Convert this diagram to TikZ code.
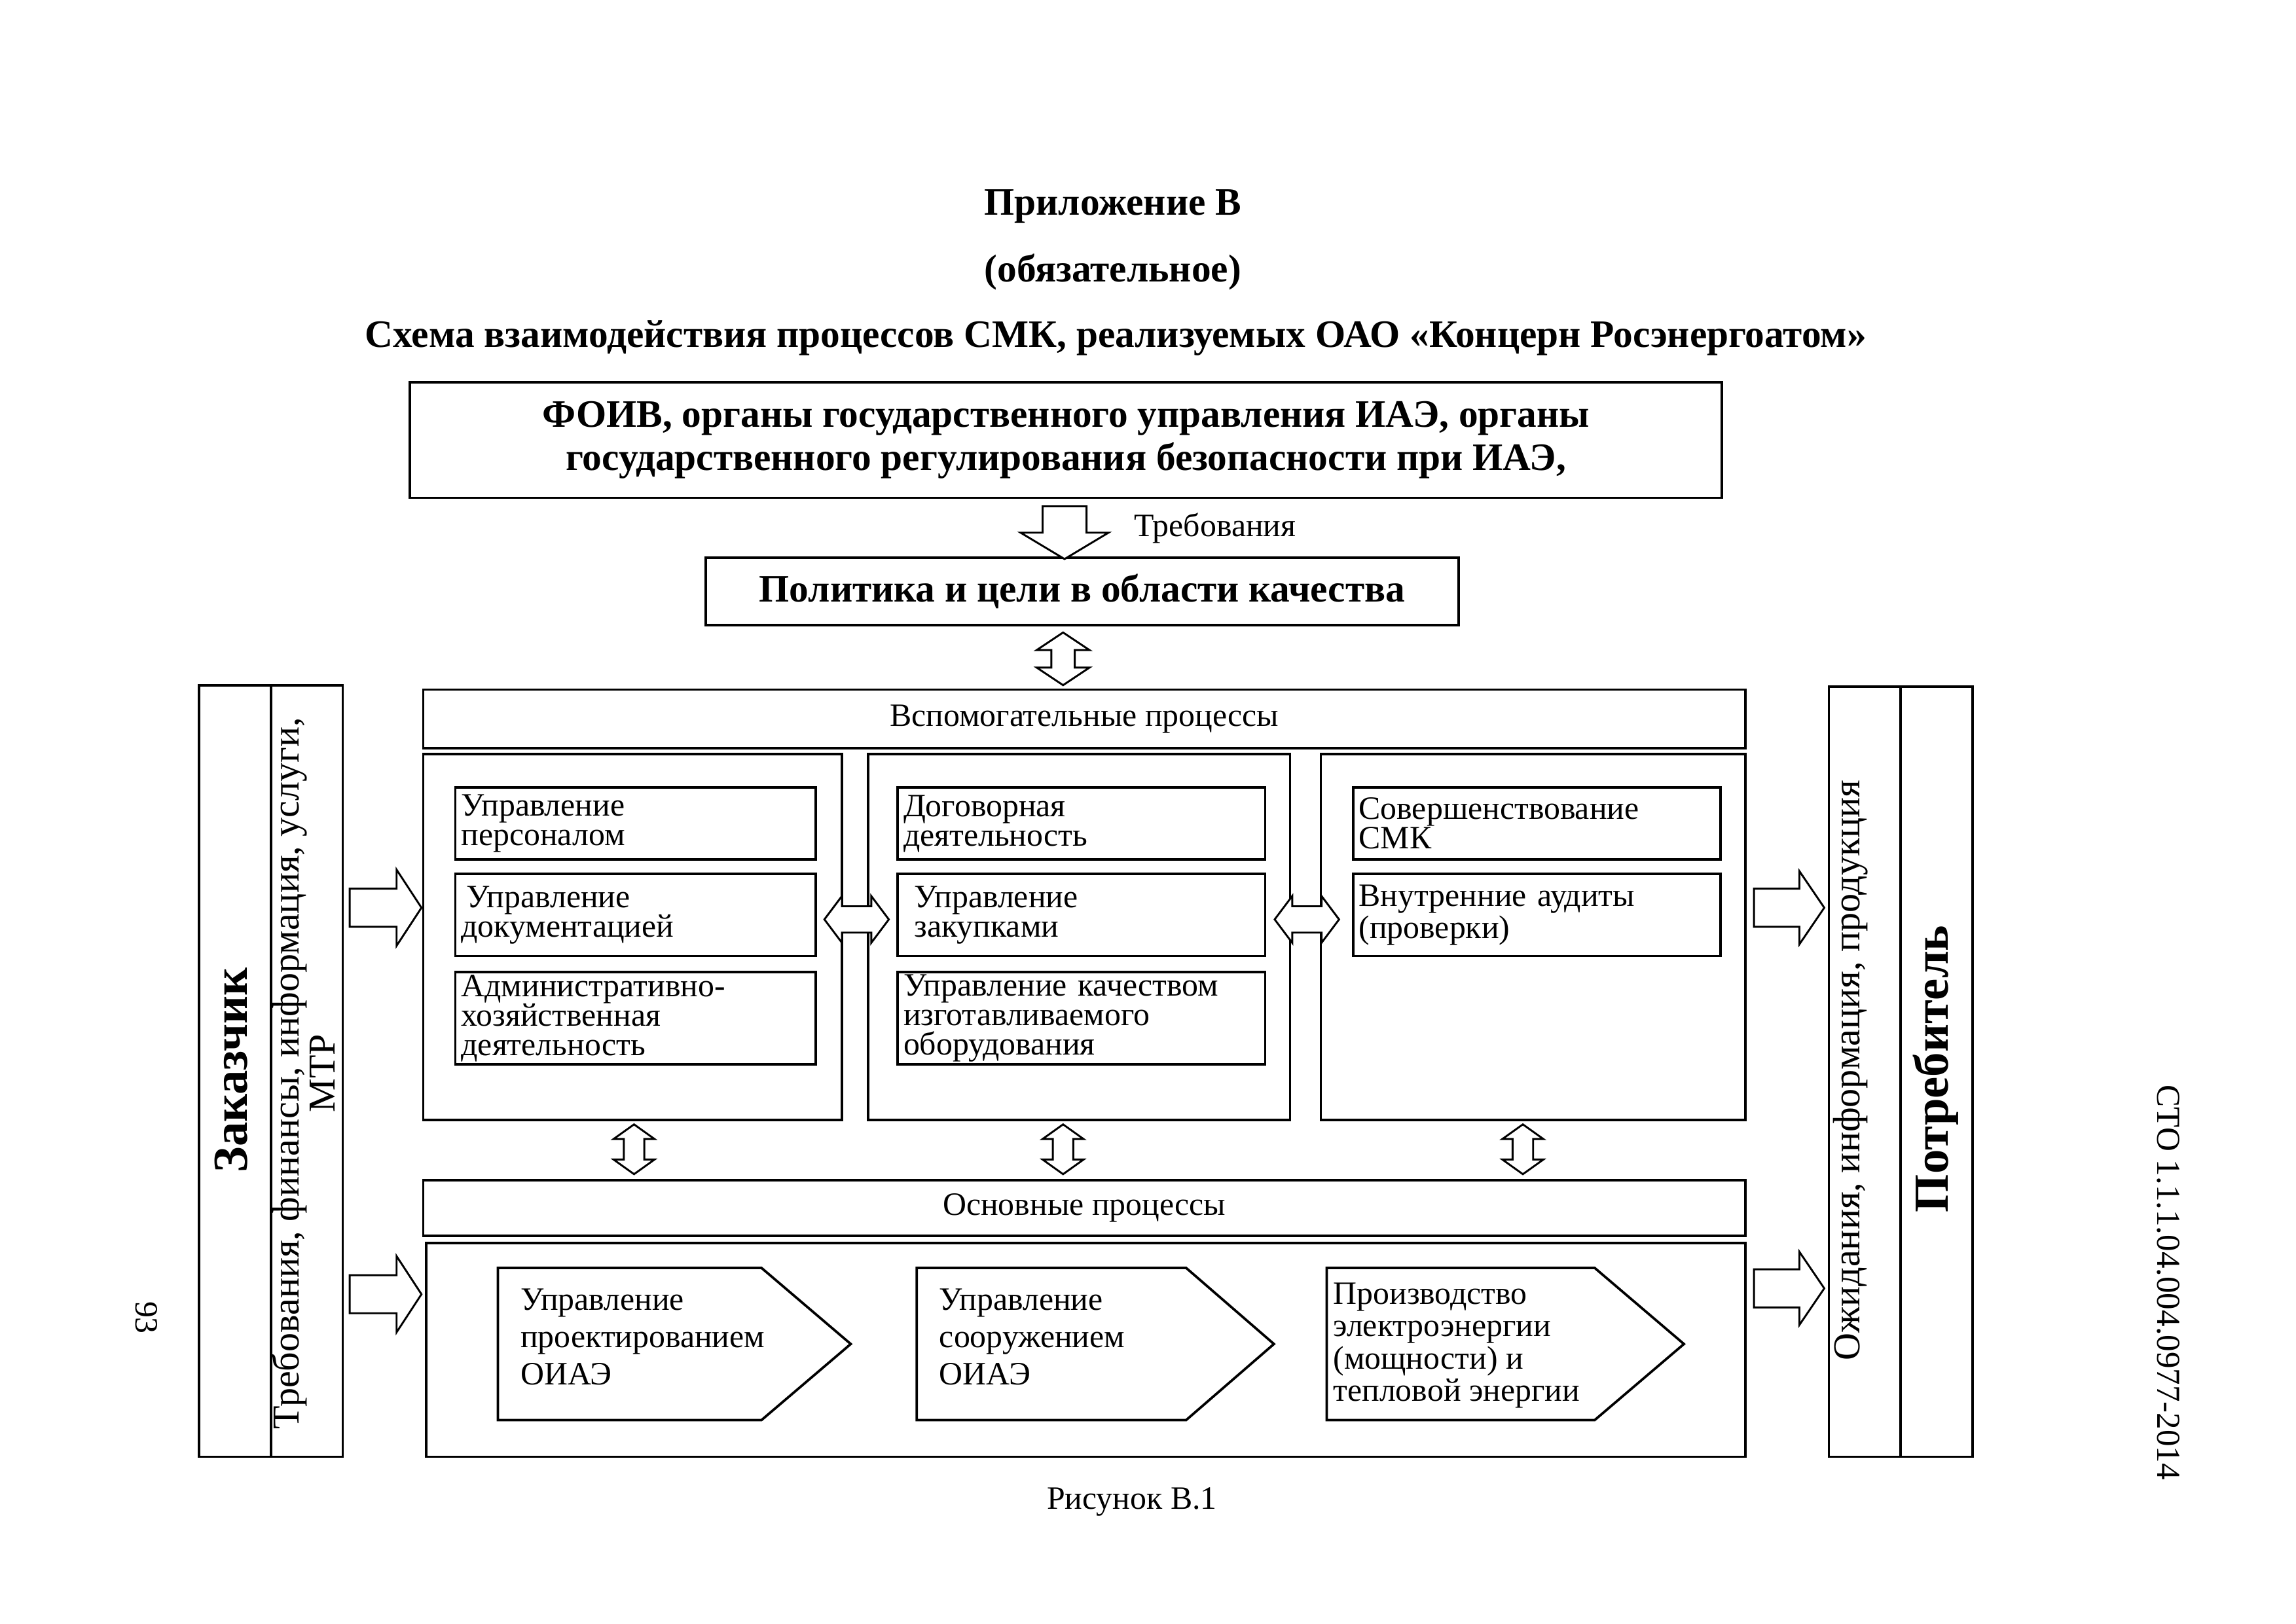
\documentclass[tikz,border=0pt]{standalone}
\usepackage{fontspec}
\setmainfont{Liberation Serif}
\usetikzlibrary{positioning, calc}

\newcommand{\pxu}{0.018941cm}
\newcommand{\norm}{\fontsize{12}{13.7}\selectfont}
\newcommand{\inbox}{\fontsize{12}{10.8}\selectfont}
\newcommand{\bfhead}{\fontsize{14.3}{16}\selectfont\bfseries}

\tikzset{
  box/.style 2 args={draw, line width=0.9pt, inner sep=0pt,
    minimum width=#1*\pxu, minimum height=#2*\pxu},
  procbox/.style 2 args={draw, line width=0.9pt, inner ysep=0pt, inner xsep=4*\pxu,
    text width=(#1-8)*\pxu, minimum height=#2*\pxu, align=left, font=\inbox},
  arrline/.style={line width=0.7pt, fill=white},
  pics/fatarrow/.style n args={4}{code={
    \draw[arrline] (0,-#2) -- (#1-#4,-#2) -- (#1-#4,-#3) -- (#1,0)
      -- (#1-#4,#3) -- (#1-#4,#2) -- (0,#2) -- cycle;}},
  pics/twinarrow/.style n args={4}{code={
    \draw[arrline] (-#1/2,0) -- (-#1/2+#4,#3) -- (-#1/2+#4,#2) -- (#1/2-#4,#2)
      -- (#1/2-#4,#3) -- (#1/2,0) -- (#1/2-#4,-#3) -- (#1/2-#4,-#2)
      -- (-#1/2+#4,-#2) -- (-#1/2+#4,-#3) -- cycle;}}
}

\begin{document}
\begin{tikzpicture}[x=\pxu, y=-\pxu]
\useasboundingbox (0,0) rectangle (1568,1109);

% headings
\node[font=\bfhead] (annex) at (760,141) {Приложение В};
\node[font=\bfhead] (oblig) at (760,186) {(обязательное)};
\node[font=\bfhead] (titl) at (762,231) {Схема взаимодействия процессов СМК, реализуемых ОАО «Концерн Росэнергоатом»};

% top boxes
\node[box={896}{79}, font=\bfhead, align=center] (foiv) at (728,300.5)
  {ФОИВ, органы государственного управления ИАЭ, органы\\государственного регулирования безопасности при ИАЭ,};
\node[box={514}{46}, font=\bfhead] (policy) at (739,404) {Политика и цели в области качества};
\pic[rotate=-90] at ($(foiv.south)+(-1,5)$) {fatarrow={36}{15}{30}{18}};
\node[font=\norm, anchor=west] (req) at (768,361) {Требования};

% support processes
\node[box={903}{40}, font=\norm] (aux) at (740.5,491) {Вспомогательные процессы};
\pic[rotate=90] at (726,450) {twinarrow={36}{8}{18}{12}};
\node[box={286}{250}] (g1) at (432,640) {};
\node[box={288}{250}] (g2) at (737,640) {};
\node[box={290}{250}] (g3) at (1047,640) {};

\node[procbox={246}{49}] (pers) at (434,562.5) {Управление\\персоналом};
\node[procbox={246}{56}] (docs) at (434,625) {\hspace*{2pt}Управление\\документацией};
\node[procbox={246}{63}] (admin) at (434,695.5) {Административно-\\хозяйственная\\деятельность};
\node[procbox={251}{49}] (contr) at (738.5,562.5) {Договорная\\деятельность};
\node[procbox={251}{56}] (purch) at (738.5,625) {\hspace*{4pt}Управление\\\hspace*{4pt}закупками};
\node[procbox={251}{63}] (qual) at (738.5,695.5) {Управление качеством\\изготавливаемого\\оборудования};
\node[procbox={251}{49}] (impr) at (1049.5,562.5) {Совершенствование\\СМК};
\node[procbox={251}{56}] (audit) at (1049.5,625) {Внутренние аудиты\\(проверки)};

\pic at ($(g1.east)!0.5!(g2.west)+(1,-12)$) {twinarrow={44}{9}{16}{12}};
\pic at ($(g2.east)!0.5!(g3.west)+(1,-12)$) {twinarrow={44}{9}{16}{12}};
\foreach \ax in {433, 726, 1040}
  \pic[rotate=90] at (\ax,785) {twinarrow={34}{7}{14}{10}};

% main processes
\node[box={903}{38}, font=\norm] (osn) at (740.5,825) {Основные процессы};
\node[box={901}{146}] (osnbox) at (741.5,922) {};
\foreach \xa/\xb/\xc in {340/520/581, 626/810/870, 906/1089/1150}
  \draw[line width=0.9pt] (\xa,866) -- (\xb,866) -- (\xc,918) -- (\xb,970) -- (\xa,970) -- cycle;
\node[font=\norm, align=left, anchor=west] (proj) at (349,913) {Управление\\проектированием\\ОИАЭ};
\node[font=\norm, align=left, anchor=west] (build) at (635,913) {Управление\\сооружением\\ОИАЭ};
\node[font=\fontsize{12}{11.85}\selectfont, align=left, anchor=west] (power) at (904,919)
  {Производство\\электроэнергии\\(мощности) и\\тепловой энергии};

% customer and consumer
\node[box={98}{527}] (zak) at (185,731.5) {};
\draw[line width=0.9pt] (zak.north) -- (zak.south);
\node[rotate=90, font=\fontsize{18}{20}\selectfont\bfseries] (zakname) at (158,731) {Заказчик};
\node[rotate=90, font=\fontsize{14}{12}\selectfont, align=center] (zakin) at (207,733)
  {Требования, финансы, информация, услуги,\\МТР};
\node[box={98}{526}] (potr) at (1298,732) {};
\draw[line width=0.9pt] (potr.north) -- (potr.south);
\node[rotate=90, font=\fontsize{14}{16}\selectfont] (potrout) at (1264,731) {Ожидания, информация, продукция};
\node[rotate=90, font=\fontsize{18}{20}\selectfont\bfseries] (potrname) at (1322,730) {Потребитель};

\pic at ($(zak.east |- g1.center)+(4,-20)$) {fatarrow={49}{13}{26}{17}};
\pic at ($(zak.east |- osnbox.center)+(4,-38)$) {fatarrow={49}{13}{26}{17}};
\pic at ($(g3.east)+(5,-20)$) {fatarrow={48}{13}{25}{17}};
\pic at ($(osnbox.east)+(5,-42)$) {fatarrow={48}{13}{25}{17}};

% caption and page marks
\node[font=\norm] (fig) at (773,1026) {Рисунок В.1};
\node[rotate=-90, font=\norm] (page) at (100,900) {93};
\node[rotate=-90, font=\fontsize{12.3}{14}\selectfont] (std) at (1481,876) {СТО 1.1.1.04.004.0977-2014};
\end{tikzpicture}
\end{document}
